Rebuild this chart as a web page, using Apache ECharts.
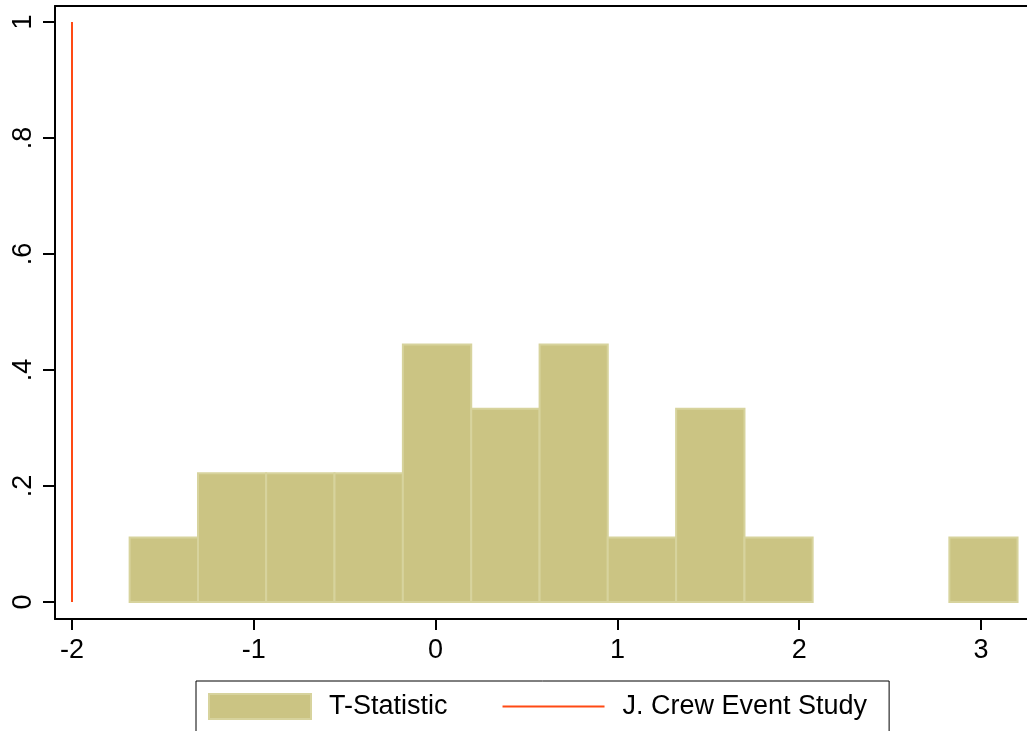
<!DOCTYPE html>
<html>
<head>
<meta charset="utf-8">
<script src="https://cdn.jsdelivr.net/npm/echarts@6/dist/echarts.min.js"></script>
<style>
html,body{margin:0;padding:0;background:#fff;}
#chart{width:1027px;height:731px;}
</style>
</head>
<body>
<div id="chart"></div>
<script>
// Histogram bins (left edge, right edge) and densities
const binLeft  = [-1.683, -1.307, -0.932, -0.556, -0.180, 0.196, 0.572, 0.947, 1.323, 1.699, 2.826];
const binRight = [-1.307, -0.932, -0.556, -0.180, 0.196, 0.572, 0.947, 1.323, 1.699, 2.074, 3.201];
const density  = [0.111, 0.222, 0.222, 0.222, 0.444, 0.333, 0.444, 0.111, 0.333, 0.111, 0.111];
// J. Crew event study vertical line
const eventX = -2;
const eventY = [0, 1];
// Tick labels
const xTicks = [-2, -1, 0, 1, 2, 3];
const yTicks = [0, 0.2, 0.4, 0.6, 0.8, 1];
const yTickLabels = ['0', '.2', '.4', '.6', '.8', '1'];

const FONT = 'Liberation Sans, Arial, Helvetica, sans-serif';
const chart = echarts.init(document.getElementById('chart'), null, {renderer: 'canvas'});

const histData = binLeft.map((l, i) => [l, binRight[i], density[i]]);
const X_MIN = -2.0935, X_MAX = 3.253;

chart.setOption({
  animation: false,
  backgroundColor: '#fff',
  grid: {
    left: 55, top: 6, right: 0, bottom: 112,
    show: false
  },
  xAxis: [
    {
      type: 'value',
      min: X_MIN, max: X_MAX,
      axisLine: {show: true, onZero: false, lineStyle: {color: '#000', width: 2}},
      axisTick: {show: true, length: 11, customValues: xTicks, lineStyle: {color: '#000', width: 2}},
      axisLabel: {
        customValues: xTicks, margin: 18, color: '#000', fontSize: 27, fontFamily: FONT,
        formatter: v => String(v)
      },
      splitLine: {show: false}
    },
    {
      type: 'value', position: 'top',
      min: X_MIN, max: X_MAX,
      axisLine: {show: true, onZero: false, lineStyle: {color: '#000', width: 2}},
      axisTick: {show: false},
      axisLabel: {show: false},
      splitLine: {show: false}
    }
  ],
  yAxis: {
    type: 'value',
    min: -0.0294, max: 1.0276,
    axisLine: {show: true, onZero: false, lineStyle: {color: '#000', width: 2}},
    axisTick: {show: true, length: 12, customValues: yTicks, lineStyle: {color: '#000', width: 2}},
    axisLabel: {
      customValues: yTicks, rotate: 90, margin: 18, color: '#000', fontSize: 27, fontFamily: FONT,
      formatter: v => {
        const i = yTicks.findIndex(t => Math.abs(t - v) < 1e-6);
        return i >= 0 ? yTickLabels[i] : '';
      }
    },
    splitLine: {show: false}
  },
  legend: {
    left: 196, top: 681,
    itemWidth: 102, itemHeight: 25, itemGap: 54,
    borderColor: '#000', borderWidth: 1, borderRadius: 0,
    padding: [12, 22, 14, 12],
    textStyle: {color: '#000', fontSize: 27, fontFamily: FONT, padding: [0, 0, 0, 13]},
    data: [
      {name: 'T-Statistic', icon: 'rect'},
      {name: 'J. Crew Event Study', itemStyle: {opacity: 0, borderWidth: 0}}
    ]
  },
  series: [
    {
      name: 'T-Statistic',
      type: 'custom',
      xAxisIndex: 0,
      itemStyle: {color: '#cbc483', borderColor: '#d7d39d', borderWidth: 2},
      encode: {x: [0, 1], y: 2},
      data: histData,
      renderItem: (params, api) => {
        const p0 = api.coord([api.value(0), 0]);
        const p1 = api.coord([api.value(1), api.value(2)]);
        return {
          type: 'rect',
          shape: {x: p0[0], y: p1[1], width: p1[0] - p0[0], height: p0[1] - p1[1]},
          style: {fill: '#cbc483', stroke: '#d7d39d', lineWidth: 2}
        };
      }
    },
    {
      name: 'J. Crew Event Study',
      type: 'line',
      xAxisIndex: 0,
      symbol: 'none',
      lineStyle: {color: '#ff4a14', width: 2},
      itemStyle: {color: '#ff4a14'},
      data: eventY.map(y => [eventX, y])
    }
  ]
});
</script>
</body>
</html>
